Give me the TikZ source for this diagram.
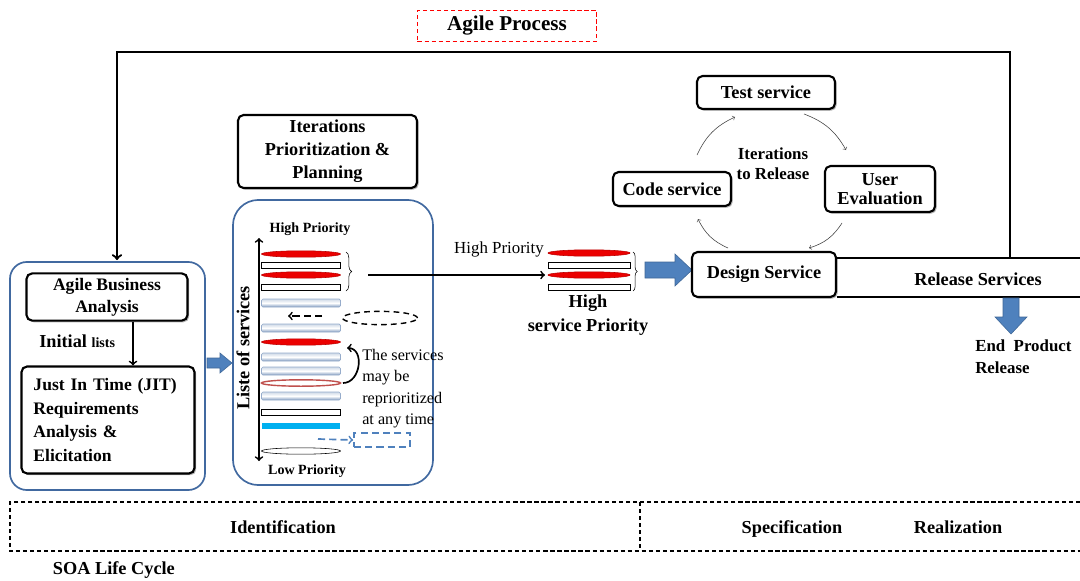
\documentclass[tikz,border=0pt]{standalone}
\usepackage{fontspec}
\setmainfont{Liberation Serif}
\usetikzlibrary{shapes.geometric,decorations.pathreplacing,shadows}

\definecolor{framblue}{RGB}{65,105,160}
\definecolor{arrblue}{RGB}{79,129,189}
\definecolor{pillred}{RGB}{235,0,0}
\definecolor{ringred}{RGB}{192,80,77}
\definecolor{barcyan}{RGB}{0,176,240}

\tikzset{
  stepbox/.style={draw, line width=1.5pt, rounded corners=4pt, fill=white, align=center,
    font=\bfseries\fontsize{13}{14.5}\selectfont,
    drop shadow={shadow xshift=1.2pt, shadow yshift=-1.2pt, opacity=.6}},
  frame/.style={draw=framblue, line width=1.2pt},
  lbl/.style={font=\bfseries\fontsize{13}{15}\selectfont, align=center},
  redpill/.style={ellipse, fill=pillred, draw=pillred!80!black, minimum width=1.975cm, minimum height=0.16cm, inner sep=0pt},
  ringpill/.style={ellipse, fill=white, draw=ringred, line width=1pt, minimum width=1.975cm, minimum height=0.16cm, inner sep=0pt},
  whitepill/.style={ellipse, fill=white, draw, minimum width=1.975cm, minimum height=0.16cm, inner sep=0pt},
  whitebar/.style={rectangle, fill=white, draw, minimum width=1.975cm, minimum height=0.15cm, inner sep=0pt},
  bluebar/.style={rectangle, rounded corners=1pt, top color=framblue!25, bottom color=framblue!65,
    middle color=white, draw=framblue!55, minimum width=1.975cm, minimum height=0.2cm, inner sep=0pt},
  cyanbar/.style={rectangle, fill=barcyan, minimum width=1.95cm, minimum height=0.17cm, inner sep=0pt},
  cyc/.style={->, draw=black!75, thin},
  dashy/.style={dash pattern=on 3pt off 2pt}
}

\begin{document}
\begin{tikzpicture}[x=0.025cm, y=-0.025cm]
  \useasboundingbox (0,0) rectangle (1080,580);

  % title and feedback loop
  \node[draw=red, line width=1.2pt, dashy, minimum width=4.475cm, minimum height=0.775cm,
    font=\bfseries\fontsize{15}{17}\selectfont] (title) at (507,26) {Agile Process};

  % left part
  \node[frame, rounded corners=12pt, minimum width=4.875cm, minimum height=5.7cm] (leftframe) at (107.5,376) {};
  \node[stepbox, minimum width=4.025cm, minimum height=1.125cm, font=\bfseries\fontsize{12.5}{15.5}\selectfont]
    (aba) at (107,297) {Agile Business\\Analysis};
  \node[stepbox, minimum width=4.325cm, minimum height=2.675cm, inner xsep=0.3cm, text width=3.725cm,
    align=left, font=\bfseries\fontsize{12.5}{16.7}\selectfont]
    (jit) at (108,420) {Just In Time (JIT)\\Requirements\\Analysis \&\\Elicitation};
  \node[anchor=west, font=\bfseries\fontsize{13}{15}\selectfont, inner sep=0pt] (initial) at (39,341)
    {Initial {\fontsize{10}{12}\selectfont lists}};
  \draw[->, line width=1.2pt] (aba.south -| 133,0) -- (jit.north -| 133,0);

  \coordinate (loopend) at (1010,258);
  \coordinate (loopin) at (117,260);
  \draw[line width=1.6pt, ->] (loopend) |- (117,52) -- (loopin);

  % middle part
  \node[stepbox, minimum width=4.475cm, minimum height=1.825cm, font=\bfseries\fontsize{13}{16.3}\selectfont]
    (ipp) at (327.5,151.5) {Iterations\\Prioritization \&\\Planning};
  \node[frame, rounded corners=18pt, minimum width=5cm, minimum height=7.125cm] (midframe) at (333,342.5) {};
  \fill[arrblue, draw=arrblue!80!black] (207,358) -- (220,358) -- (220,353) -- (232,363) -- (220,373) -- (220,368) -- (207,368) -- cycle;

  \node[font=\bfseries\fontsize{10}{12}\selectfont] (hip) at (310,229) {High Priority};
  \node[font=\bfseries\fontsize{10}{12}\selectfont] (lop) at (307,471) {Low Priority};
  \draw[<->, line width=1.2pt] (259,238) -- (259,461);
  \node[rotate=90, font=\bfseries\fontsize{13}{15}\selectfont] (liste) at (243,348) {Liste of services};

  \foreach \y/\s in {254/redpill, 265/whitebar, 275/redpill, 287/whitebar, 303/bluebar, 328/bluebar,
    342/redpill, 357/bluebar, 371/bluebar, 383/ringpill, 396/bluebar, 412/whitebar, 426/cyanbar, 451/whitepill}
    \node[\s] at (301,\y) {};

  \draw[decorate, decoration={brace, amplitude=4pt}] (346,252) -- (346,291);
  \coordinate (bracetip) at (368,275);

  \node[ellipse, draw, line width=1pt, dash pattern=on 4pt off 3pt, minimum width=1.875cm, minimum height=0.3cm] (oldslot) at (380,318) {};
  \draw[->, line width=1.2pt, dash pattern=on 5pt off 3pt] (322,316) -- (288,316);

  \node[anchor=north west, align=left, inner sep=0pt, font=\fontsize{11.5}{15.2}\selectfont] (repri) at (362,349)
    {The services\\may be\\reprioritized\\at any time};
  \draw[->, line width=1.2pt] (343,383) to[out=0, in=0, looseness=1.3] (347,348);

  \node[draw=arrblue, line width=1.2pt, dash pattern=on 5pt off 3pt, minimum width=1.4cm, minimum height=0.35cm] (newslot) at (382,440) {};
  \draw[->, draw=arrblue, line width=1.2pt, dash pattern=on 5pt off 3pt] (318,439) -- (newslot.west);

  % high priority stack
  \node[font=\fontsize{12}{14}\selectfont] (hplabel) at (499,249) {High Priority};
  \foreach \y/\s in {253/redpill, 265/whitebar, 275/redpill, 287/whitebar}
    \node[\s, minimum width=2.05cm] at (589,\y) {};
  \draw[decorate, decoration={brace, amplitude=3pt}] (633,252) -- (633,291);
  \coordinate (stackin) at (545,275);
  \draw[->, line width=1.2pt] (bracetip) -- (stackin);
  \node[lbl, font=\bfseries\fontsize{13}{17}\selectfont] (hsp) at (588,315) {High\\service Priority};
  \fill[arrblue, draw=arrblue!80!black] (645,262) -- (675,262) -- (675,254) -- (692,270) -- (675,286) -- (675,278) -- (645,278) -- cycle;

  % iteration cycle
  \node[stepbox, minimum width=3.6cm, minimum height=1.125cm] (design) at (764,274.5) {Design Service};
  \node[stepbox, minimum width=3.45cm, minimum height=0.825cm] (test) at (766,92.5) {Test service};
  \node[stepbox, minimum width=2.95cm, minimum height=0.85cm] (code) at (672,189) {Code service};
  \node[stepbox, minimum width=2.75cm, minimum height=1.15cm, font=\bfseries\fontsize{13}{14}\selectfont]
    (user) at (880,189) {User\\Evaluation};
  \node[lbl, font=\bfseries\fontsize{12}{14.5}\selectfont] (iter) at (773,164) {Iterations\\to Release};
  \draw[cyc] (697,155) to[bend left=20] (735,117);
  \draw[cyc] (804,114) to[bend left=20] (846,150);
  \draw[cyc] (842,223) to[bend left=20] (809,248);
  \draw[cyc] (728,248) to[bend left=20] (698,219);

  % release
  \draw[line width=1.5pt] (design.east |- 0,258) -- (1080,258);
  \draw[line width=1.5pt] (design.east |- 0,297) -- (1080,297);
  \node[lbl] (release) at (978,279) {Release Services};
  \fill[arrblue, draw=arrblue!80!black] (1003,298) -- (1019,298) -- (1019,317) -- (1027,317) -- (1011,334) -- (995,317) -- (1003,317) -- cycle;
  \node[anchor=north west, align=left, inner sep=0pt, font=\bfseries\fontsize{12}{15}\selectfont] (endp) at (975,340)
    {End\ \ Product\\Release};

  % SOA life cycle band
  \draw[line width=1.2pt, dashy] (1080,502) -- (10,502) -- (10,551) -- (1080,551);
  \draw[line width=1.2pt, dashy] (640,502) -- (640,551);
  \node[lbl, anchor=base] (ident) at (283,533) {Identification};
  \node[lbl, anchor=base] (spec) at (792,533) {Specification};
  \node[lbl, anchor=base] (real) at (958,533) {Realization};
  \node[lbl, anchor=west] (soa) at (48,570) {SOA Life Cycle};
\end{tikzpicture}
\end{document}
